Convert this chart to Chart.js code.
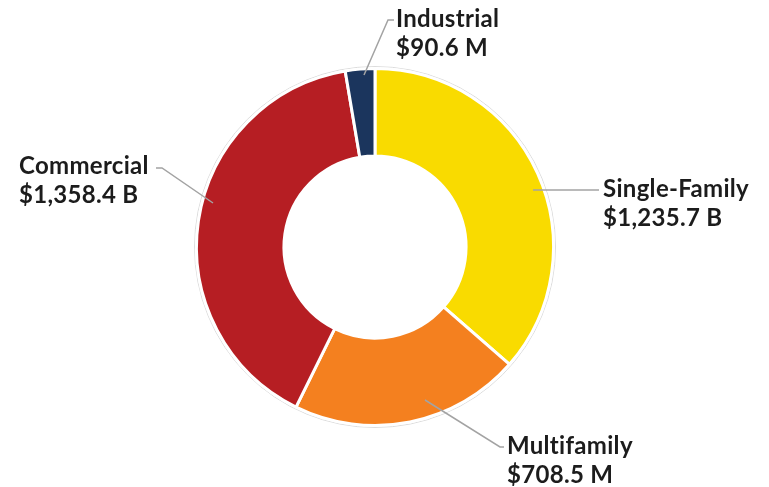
<!DOCTYPE html>
<html>
<head>
<meta charset="utf-8">
<script src="https://cdn.jsdelivr.net/npm/chart.js@4"></script>
<style>
  html, body { margin: 0; padding: 0; background: #fff; }
  canvas { display: block; }
</style>
</head>
<body>
<canvas id="spendChart" width="769" height="487"></canvas>
<script>
const categories = ['Single-Family', 'Multifamily', 'Commercial', 'Industrial'];
const values = [1235.7, 708.5, 1358.4, 90.6];
const valueLabels = ['$1,235.7 B', '$708.5 M', '$1,358.4 B', '$90.6 M'];
const colors = ['#F9DB00', '#F4801F', '#B61E23', '#1B355D'];

// where each callout sits: text anchor, and the leader's path from the slice
const callouts = [
  { tx: 603, ty: 197, start: [533, 190], path: [[599, 190]] },
  { tx: 507, ty: 454, start: [425, 400], path: [[500, 447], [504, 447]] },
  { tx: 19, ty: 174, start: [213, 203], path: [[162, 168], [156, 168]] },
  { tx: 396, ty: 27, start: [364, 75], path: [[388, 20], [394, 20]] }
];

const calloutPlugin = {
  id: 'callouts',
  beforeDatasetsDraw(chart) {
    // faint rim around the ring
    const arc = chart.getDatasetMeta(0).data[0];
    const ctx = chart.ctx;
    ctx.save();
    ctx.beginPath();
    ctx.arc(arc.x, arc.y, arc.outerRadius + 2, 0, Math.PI * 2);
    ctx.strokeStyle = '#dcdcdc';
    ctx.lineWidth = 1;
    ctx.stroke();
    ctx.restore();
  },
  afterDatasetsDraw(chart) {
    const ctx = chart.ctx;
    ctx.save();
    callouts.forEach((c, i) => {
      ctx.beginPath();
      ctx.moveTo(c.start[0], c.start[1]);
      c.path.forEach(p => ctx.lineTo(p[0], p[1]));
      ctx.strokeStyle = '#a3a3a3';
      ctx.lineWidth = 1.5;
      ctx.stroke();

      ctx.fillStyle = '#1c1c1c';
      ctx.font = 'bold 24px Lato';
      ctx.letterSpacing = '0.3px'; // also keeps "fi" from joining
      ctx.textAlign = 'left';
      ctx.textBaseline = 'alphabetic';
      ctx.fillText(categories[i], c.tx, c.ty);
      ctx.fillText(valueLabels[i], c.tx, c.ty + 28.5);
    });
    ctx.restore();
  }
};

const ctx = document.getElementById('spendChart').getContext('2d');
const spendChart = new Chart(ctx, {
  type: 'doughnut',
  data: {
    labels: categories,
    datasets: [{
      data: values,
      backgroundColor: colors,
      borderColor: '#ffffff',
      borderWidth: 3
    }]
  },
  options: {
    responsive: false,
    animation: false,
    cutout: '51%',
    layout: {
      padding: { top: 67, bottom: 60, left: 195, right: 214 }
    },
    plugins: {
      legend: { display: false },
      tooltip: { enabled: false }
    }
  },
  plugins: [calloutPlugin]
});
</script>
</body>
</html>
